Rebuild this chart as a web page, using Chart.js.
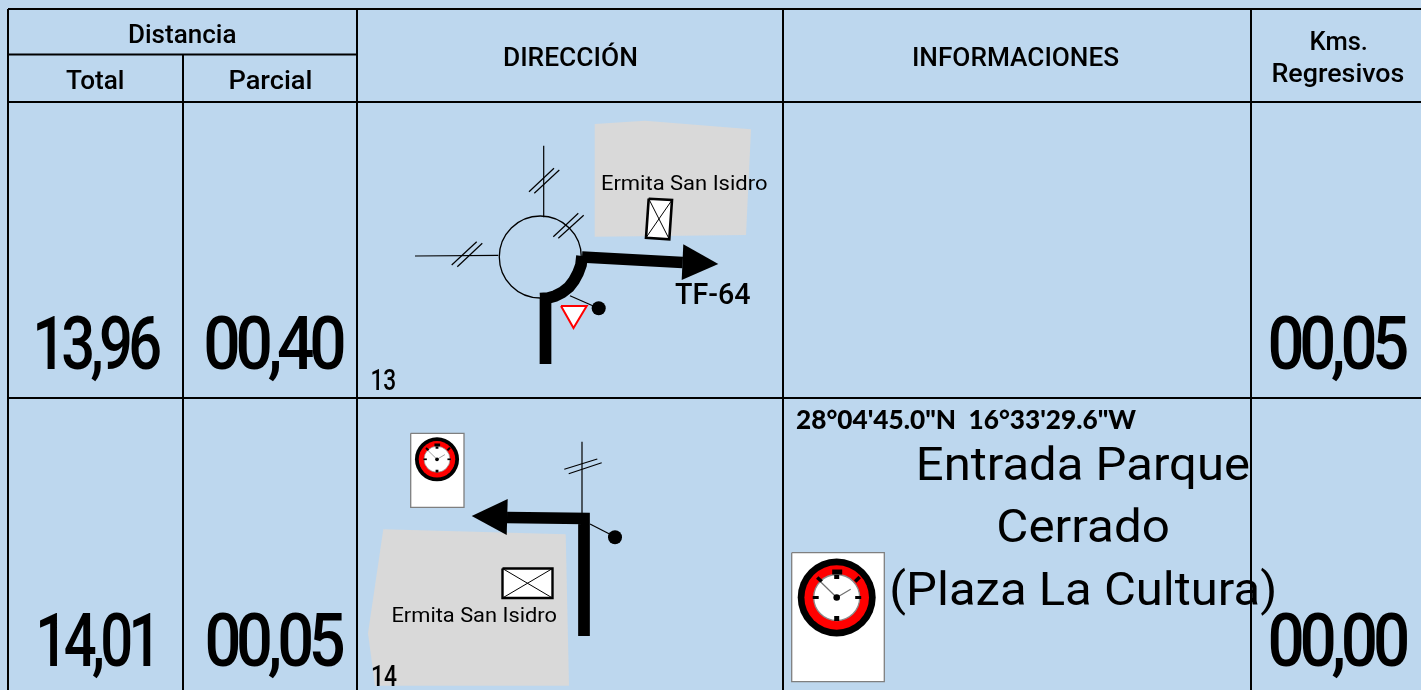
<!DOCTYPE html>
<html>
<head>
<meta charset="utf-8">
<title>Roadbook</title>
<script src="https://cdn.jsdelivr.net/npm/chart.js"></script>
<style>
  html, body { margin: 0; padding: 0; background: #bdd7ee; overflow: hidden; }
  canvas { display: block; }
</style>
</head>
<body>
<canvas id="roadbook" width="1421" height="690"></canvas>
<script>
// table text
const headers = ['Distancia', 'Total', 'Parcial', 'DIRECCIÓN', 'INFORMACIONES', 'Kms.', 'Regresivos'];
const totals = ['13,96', '14,01'];
const parciales = ['00,40', '00,05'];
const regresivos = ['00,05', '00,00'];
const boxNumbers = ['13', '14'];
const coords = ['28°04\'45.0"N  16°33\'29.6"W'];
const infoLines = ['Entrada Parque', 'Cerrado', '(Plaza La Cultura)'];
const sketchLabels = ['Ermita San Isidro', 'TF-64'];

// table rules, in page units
const tableRules = [
  [[8, 9], [1421, 9]], [[8, 54.5], [357, 54.5]], [[8, 102], [1421, 102]], [[8, 398], [1421, 398]],
  [[8, 9], [8, 690]], [[183, 55], [183, 690]], [[357, 9], [357, 690]], [[783, 9], [783, 690]], [[1251, 9], [1251, 690]]
];

// box 13 sketch
const block13 = [[594.7, 124], [645, 120.7], [751, 129.3], [746, 235], [594.7, 236.7], [594.7, 124]];
const house13 = [[648.7, 198.7], [672, 200], [669.3, 239.3], [646, 237.7], [648.7, 198.7]];
const houseCross13 = [[[648.7, 198.7], [669.3, 239.3]], [[672, 200], [646, 237.7]]];
const roundabout = [[540.3, 257]];
const sideRoads13 = [
  [[543.7, 145.7], [543.7, 217.3]], [[415, 256], [498.3, 255.3]],
  [[529, 191.7], [554, 168.3]], [[534.3, 193.3], [559.3, 170]],
  [[451.7, 265], [476.7, 241.7]], [[457.3, 266.7], [482.3, 243.3]],
  [[553.3, 236.7], [578.3, 213.3]], [[558.3, 238.3], [583.7, 215.3]],
  [[570, 295.7], [593.3, 306]]
];
const routeIn13 = [[545.5, 364], [545.5, 298]];
const routeCurve13 = [[540, 298.5], [548, 298], [555, 296], [562, 292.5], [569, 287], [574, 280.5], [578, 273], [581, 265], [582, 256]];
const routeOut13 = [[582, 257], [682.7, 262.5]];
const arrow13 = [[683.3, 244.3], [718.3, 264], [681.7, 280], [683.3, 244.3]];
const signPost13 = [[598.7, 308.3]];
const yield13 = [[561, 306], [586.7, 306], [573.5, 328], [561, 306]];

// box 14 sketch
const block14 = [[383.3, 529.3], [565.7, 534.3], [569, 685.7], [375, 685.7], [368, 633.3], [383.3, 529.3]];
const house14 = [[502.5, 568.5], [552.5, 568.5], [552.5, 598], [502.5, 598], [502.5, 568.5]];
const houseCross14 = [[[502.5, 568.5], [552.5, 598]], [[552.5, 568.5], [502.5, 598]]];
const sideRoads14 = [
  [[582, 441.7], [582, 513]],
  [[564.3, 469.3], [597.3, 459]], [[568.7, 473.7], [601.7, 462.7]],
  [[590, 524], [610, 534.3]]
];
const route14 = [[584, 636], [584, 518.5], [507, 517.5]];
const arrow14 = [[507.7, 499], [471.7, 516], [506.7, 535], [507.7, 499]];
const signPost14 = [[615, 537.3]];

// stopwatch cards
const smallCard = [[410.7, 433.3], [464, 433.3], [464, 507.3], [410.7, 507.3], [410.7, 433.3]];
const bigCard = [[791.7, 552.7], [884.3, 552.7], [884.3, 681.7], [791.7, 681.7], [791.7, 552.7]];
const smallWatch = [437, 459.3, 0.565];
const bigWatch = [836.7, 597.5, 1];
const watchTicks = [
  [[-4.5, -25.5], [5.5, -25.5], 5], [[0, -22.5], [0, -18.5], 5], [[0, 18.5], [0, 23.5], 5],
  [[-24, 0], [-18, 0], 3], [[18.5, 0], [24.5, 0], 3],
  [[-19.5, -20], [-15, -16], 3.5], [[23, -20.5], [18.5, -16], 3.5]
];
const watchHands = [[[0, 0], [-15.7, -15.3]], [[0, 0], [14, -8.3]]];

const datasets = [];
function add(ds) {
  // later entries paint on top
  datasets.push(Object.assign({
    showLine: true, pointRadius: 0, borderColor: '#000', borderWidth: 1.3, tension: 0, fill: false,
    borderCapStyle: 'butt', borderJoinStyle: 'miter', clip: false
  }, ds));
}
function line(data, width, color) { add({ data, borderWidth: width, borderColor: color || '#000' }); }
function shape(data, fillColor, stroke, width) {
  add({ data, fill: 'shape', backgroundColor: fillColor, borderColor: stroke || 'rgba(0,0,0,0)', borderWidth: width || 0 });
}
function disc(data, r, fillColor, stroke, width) {
  add({
    data, showLine: false, pointRadius: r, pointBackgroundColor: fillColor,
    pointBorderColor: stroke || 'rgba(0,0,0,0)', pointBorderWidth: width || 0
  });
}
function watch(w) {
  const [cx, cy, k] = w;
  const at = p => [cx + p[0] * k, cy + p[1] * k];
  disc([[cx, cy]], 39 * k, '#000');
  disc([[cx, cy]], 32.3 * k, '#ff0000');
  disc([[cx, cy]], 23 * k, '#ffffff', '#8c8c8c', 1.3 * k);
  watchTicks.forEach(t => line([at(t[0]), at(t[1])], t[2] * k));
  watchHands.forEach(h => line([at(h[0]), at(h[1])], 1.2 * k, '#707070'));
  disc([[cx, cy]], 3.3 * k, '#000');
}

shape(block13, '#d9d9d9');
shape(house13, '#ffffff', '#000', 2.6);
houseCross13.forEach(l => line(l, 1));
disc(roundabout, 41, 'rgba(0,0,0,0)', '#000', 1.3);
sideRoads13.forEach(l => line(l, 1.2));
line(routeIn13, 11.7);
line(routeCurve13, 11.7);
line(routeOut13, 11.7);
shape(arrow13, '#000');
disc(signPost13, 7, '#000');
shape(yield13, '#ffffff', '#ff0000', 2);

shape(block14, '#d9d9d9');
shape(house14, '#ffffff', '#000', 2.4);
houseCross14.forEach(l => line(l, 1));
sideRoads14.forEach(l => line(l, 1.2));
line(route14, 11.7);
shape(arrow14, '#000');
disc(signPost14, 7, '#000');

shape(smallCard, '#ffffff', '#7f7f7f', 1.3);
watch(smallWatch);
shape(bigCard, '#ffffff', '#7f7f7f', 1.3);
watch(bigWatch);

tableRules.forEach(l => line(l, 2));

datasets.forEach((d, i) => { d.order = datasets.length - i; });

// text placement: ink left, ink right, baseline, font, tracking
const hdrFont = '500 25px Roboto';
const bigFont = '500 75px Roboto';
const noFont = '500 29px Roboto';
const labelFont = '400 20px Roboto';
const infoFont = '400 46px Roboto';
const bigTrack = '-6px';
const textRuns = [
  [headers[0], 129, 236, 43, hdrFont], [headers[1], 66, 123, 88.5, hdrFont], [headers[2], 229.5, 311, 88.5, hdrFont],
  [headers[3], 504, 636, 66, hdrFont], [headers[4], 914, 1119, 66, hdrFont],
  [headers[5], 1310.5, 1367, 50, hdrFont], [headers[6], 1272.5, 1403.5, 82, hdrFont],
  [totals[0], 37, 160, 369, bigFont, bigTrack], [parciales[0], 206, 343.5, 369, bigFont, bigTrack], [regresivos[0], 1270, 1407, 369, bigFont, bigTrack],
  [totals[1], 40, 151, 666, bigFont, bigTrack], [parciales[1], 207, 343.5, 666, bigFont, bigTrack], [regresivos[1], 1270, 1407, 666, bigFont, bigTrack],
  [boxNumbers[0], 372, 395, 390, noFont], [boxNumbers[1], 372.5, 396.5, 686, noFont],
  [sketchLabels[0], 602, 767, 190, labelFont], [sketchLabels[1], 675, 750, 304, noFont],
  [sketchLabels[0], 392.5, 556.5, 621.5, labelFont],
  [coords[0], 796, 1136.5, 429, '900 26px Lato'],
  [infoLines[0], 919, 1248.5, 480, infoFont], [infoLines[1], 998.5, 1168.5, 542, infoFont],
  [infoLines[2], 892.5, 1274, 605, infoFont]
];

const tablePlugin = {
  id: 'tableText',
  afterDatasetsDraw(chart) {
    const { ctx, scales } = chart;
    textRuns.forEach(([str, x0, x1, base, font, track]) => {
      ctx.save();
      ctx.font = font;
      ctx.letterSpacing = track || '0px';
      ctx.fillStyle = '#000';
      ctx.textBaseline = 'alphabetic';
      ctx.textAlign = 'left';
      const m = ctx.measureText(str);
      const left = scales.x.getPixelForValue(x0);
      const right = scales.x.getPixelForValue(x1);
      const k = (right - left) / (m.actualBoundingBoxLeft + m.actualBoundingBoxRight);
      ctx.translate(left + m.actualBoundingBoxLeft * k, scales.y.getPixelForValue(base));
      ctx.scale(k, 1);
      ctx.fillText(str, 0, 0);
      ctx.restore();
    });
  }
};

new Chart(document.getElementById('roadbook').getContext('2d'), {
  type: 'scatter',
  data: { datasets },
  options: {
    responsive: false,
    animation: false,
    events: [],
    layout: { padding: 0, autoPadding: false },
    plugins: { legend: { display: false }, tooltip: { enabled: false } },
    scales: {
      x: { type: 'linear', display: false, min: 0, max: 1421 },
      y: { type: 'linear', display: false, min: 0, max: 690, reverse: true }
    }
  },
  plugins: [tablePlugin]
});
</script>
</body>
</html>
